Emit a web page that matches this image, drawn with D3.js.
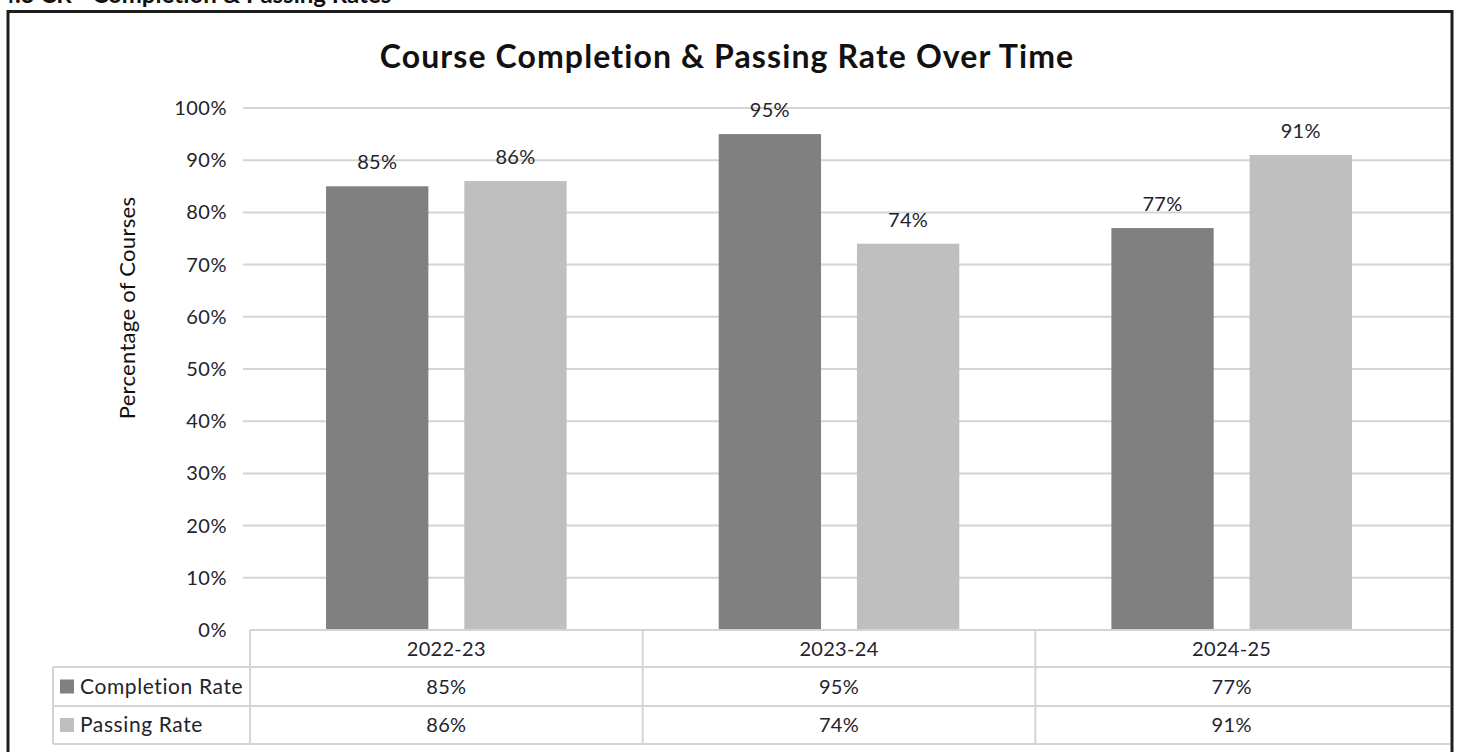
<!DOCTYPE html>
<html>
<head>
<meta charset="utf-8">
<script src="https://cdn.jsdelivr.net/npm/d3@7"></script>
<style>
  body { margin: 0; background: #fff; }
  svg { display: block; font-family: Lato, "Open Sans", sans-serif; }
</style>
</head>
<body>
<div id="chart"></div>
<script>
// chart values
const categories = ["2022-23", "2023-24", "2024-25"];
const seriesNames = ["Completion Rate", "Passing Rate"];
const completionRate = [85, 95, 77];
const passingRate = [86, 74, 91];
const yTickValues = [0, 10, 20, 30, 40, 50, 60, 70, 80, 90, 100];

const colors = { "Completion Rate": "#808080", "Passing Rate": "#bfbfbf" };
const textColor = "#24232b";
const gridColor = "#d4d4d4";

const width = 1460;
const height = 752;
const plot = { left: 250, right: 1428, edge: 1450, top: 108, bottom: 630 };

const svg = d3
  .select("#chart")
  .append("svg")
  .attr("width", width)
  .attr("height", height);

// section heading, cut off at the top like in the scan
svg
  .append("text")
  .attr("x", 1)
  .attr("y", 3)
  .attr("font-size", 24)
  .attr("font-weight", 700)
  .attr("fill", "#111")
  .text("4.3 CR - Completion & Passing Rates");

// outer frame
svg
  .append("path")
  .attr("d", `M8,${height} L8,11.5 L1452,11.5 L1452,${height}`)
  .attr("fill", "none")
  .attr("stroke", "#1e1e1e")
  .attr("stroke-width", 3);

// title
svg
  .append("text")
  .attr("x", 727)
  .attr("y", 68)
  .attr("text-anchor", "middle")
  .attr("font-size", 32)
  .attr("font-weight", 700)
  .attr("letter-spacing", 1.1)
  .attr("fill", "#111")
  .text("Course Completion & Passing Rate Over Time");

// scales
const yScale = d3.scaleLinear().domain([0, 100]).range([plot.bottom, plot.top]);

const x0 = d3
  .scaleBand()
  .domain(categories)
  .range([plot.left, plot.right])
  .paddingInner(0)
  .paddingOuter(0);

const x1 = d3
  .scaleBand()
  .domain(seriesNames)
  .range([0, x0.bandwidth()])
  .paddingInner(0.26)
  .paddingOuter(0.55);

// gridlines
svg
  .append("g")
  .selectAll("line")
  .data(yTickValues.filter((d) => d > 0))
  .enter()
  .append("line")
  .attr("x1", plot.left - 7)
  .attr("x2", plot.edge)
  .attr("y1", (d) => yScale(d))
  .attr("y2", (d) => yScale(d))
  .attr("stroke", gridColor)
  .attr("stroke-width", 2);

// y axis labels
const yAxis = d3
  .axisLeft(yScale)
  .tickValues(yTickValues)
  .tickFormat((d) => d + "%")
  .tickSize(0)
  .tickPadding(23);

const yAxisG = svg
  .append("g")
  .attr("transform", `translate(${plot.left}, 0)`)
  .call(yAxis);
yAxisG.select(".domain").remove();
yAxisG
  .selectAll("text")
  .attr("font-family", "Lato, 'Open Sans', sans-serif")
  .attr("font-size", 20)
  .attr("letter-spacing", 0.5)
  .attr("fill", textColor);

// y axis title
svg
  .append("text")
  .attr("transform", "translate(135, 308) rotate(-90)")
  .attr("text-anchor", "middle")
  .attr("font-size", 22)
  .attr("letter-spacing", 0.3)
  .attr("fill", "#111")
  .text("Percentage of Courses");

// bars
const rows = categories.map((c, i) => ({
  category: c,
  values: [
    { series: seriesNames[0], value: completionRate[i] },
    { series: seriesNames[1], value: passingRate[i] },
  ],
}));

const groups = svg
  .append("g")
  .selectAll("g")
  .data(rows)
  .enter()
  .append("g")
  .attr("transform", (d) => `translate(${x0(d.category)}, 0)`);

groups
  .selectAll("rect")
  .data((d) => d.values)
  .enter()
  .append("rect")
  .attr("x", (d) => x1(d.series))
  .attr("y", (d) => yScale(d.value))
  .attr("width", x1.bandwidth())
  .attr("height", (d) => yScale(0) - yScale(d.value))
  .attr("fill", (d) => colors[d.series]);

// data labels
groups
  .selectAll("text")
  .data((d) => d.values)
  .enter()
  .append("text")
  .attr("x", (d) => x1(d.series) + x1.bandwidth() / 2)
  .attr("y", (d) => yScale(d.value) - 17)
  .attr("text-anchor", "middle")
  .attr("font-size", 20)
  .attr("letter-spacing", 0.3)
  .attr("fill", textColor)
  .text((d) => d.value + "%");

// data table under the plot
const tableLeft = 53;
const rowLines = [plot.bottom, 667, 706, 744];
const table = svg.append("g");

// horizontal rules
table
  .append("line")
  .attr("x1", plot.left)
  .attr("x2", plot.edge)
  .attr("y1", rowLines[0])
  .attr("y2", rowLines[0])
  .attr("stroke", gridColor)
  .attr("stroke-width", 2);

rowLines.slice(1).forEach((y) => {
  table
    .append("line")
    .attr("x1", tableLeft)
    .attr("x2", plot.edge)
    .attr("y1", y)
    .attr("y2", y)
    .attr("stroke", gridColor)
    .attr("stroke-width", 2);
});

// vertical rules
table
  .append("line")
  .attr("x1", tableLeft)
  .attr("x2", tableLeft)
  .attr("y1", rowLines[1])
  .attr("y2", rowLines[3])
  .attr("stroke", gridColor)
  .attr("stroke-width", 2);

table
  .selectAll(".col-rule")
  .data(categories)
  .enter()
  .append("line")
  .attr("class", "col-rule")
  .attr("x1", (d) => x0(d))
  .attr("x2", (d) => x0(d))
  .attr("y1", rowLines[0])
  .attr("y2", rowLines[3])
  .attr("stroke", gridColor)
  .attr("stroke-width", 2);

// category header row
table
  .selectAll(".cat-label")
  .data(categories)
  .enter()
  .append("text")
  .attr("class", "cat-label")
  .attr("x", (d) => x0(d) + x0.bandwidth() / 2)
  .attr("y", (rowLines[0] + rowLines[1]) / 2 + 7)
  .attr("text-anchor", "middle")
  .attr("font-size", 20)
  .attr("letter-spacing", 0.3)
  .attr("fill", textColor)
  .text((d) => d);

// series rows
const seriesRows = [
  { name: seriesNames[0], values: completionRate },
  { name: seriesNames[1], values: passingRate },
];

seriesRows.forEach((s, r) => {
  const yMid = (rowLines[r + 1] + rowLines[r + 2]) / 2;

  table
    .append("rect")
    .attr("x", 60)
    .attr("y", yMid - 7)
    .attr("width", 14)
    .attr("height", 14)
    .attr("fill", colors[s.name]);

  table
    .append("text")
    .attr("x", 80)
    .attr("y", yMid + 7)
    .attr("font-size", 21)
    .attr("letter-spacing", 0.6)
    .attr("fill", textColor)
    .text(s.name);

  table
    .selectAll(".val-" + r)
    .data(s.values)
    .enter()
    .append("text")
    .attr("class", "val-" + r)
    .attr("x", (d, i) => x0(categories[i]) + x0.bandwidth() / 2)
    .attr("y", yMid + 7)
    .attr("text-anchor", "middle")
    .attr("font-size", 20)
    .attr("letter-spacing", 0.3)
    .attr("fill", textColor)
    .text((d) => d + "%");
});
</script>
</body>
</html>
